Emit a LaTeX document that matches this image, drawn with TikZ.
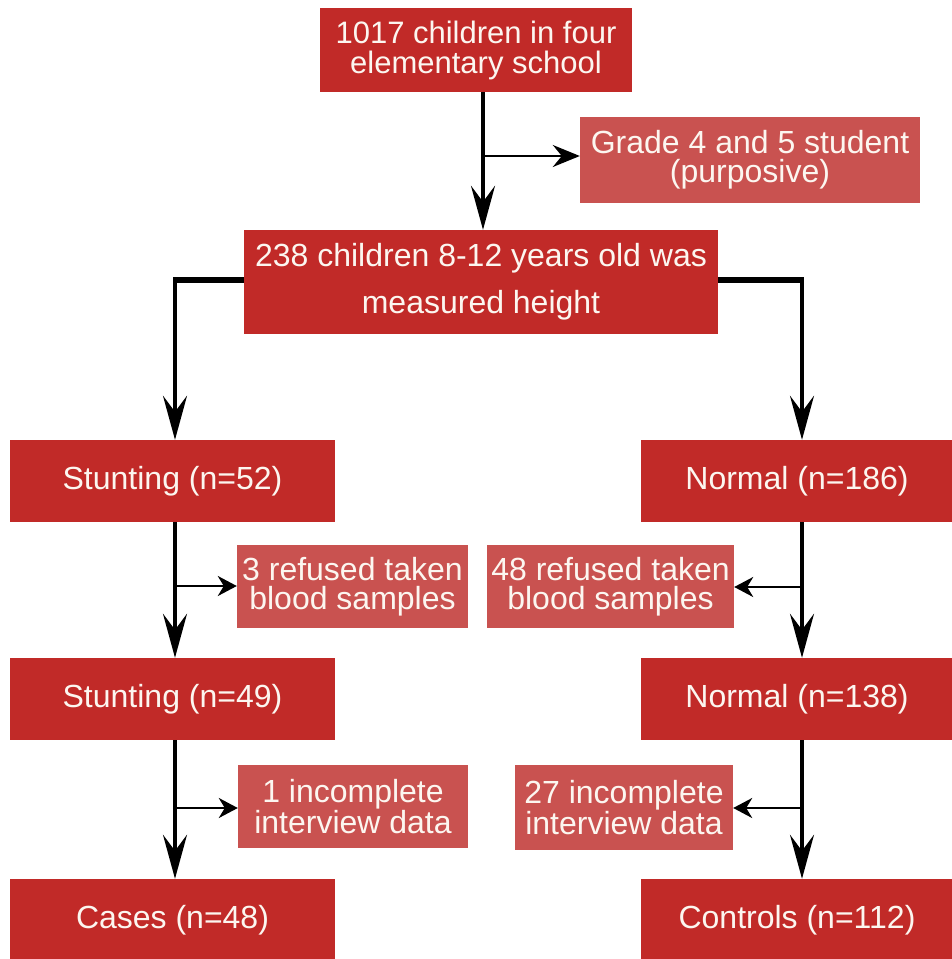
\documentclass[tikz,border=0pt]{standalone}
\usepackage{fontspec}
\setmainfont{Liberation Sans}
\usetikzlibrary{arrows.meta}
\definecolor{dred}{RGB}{193,42,40}
\definecolor{lred}{RGB}{201,82,80}
\definecolor{txt}{RGB}{252,246,240}
\begin{document}
\begin{tikzpicture}[x=1pt,y=-1pt,
  box/.style={fill=dred, text=txt, inner sep=0pt, align=center, font=\fontsize{32}{30}\selectfont},
  sbox/.style={fill=lred, text=txt, inner sep=0pt, align=center, font=\fontsize{32}{29}\selectfont},
  arr/.style={-{Stealth[length=44pt,width=24pt,inset=16pt]}, line width=4pt},
  barr/.style={-{Stealth[length=19pt,width=20pt,inset=6pt]}, line width=2.3pt},
  tarr/.style={-{Stealth[length=27pt,width=22pt,inset=9pt]}, line width=2.3pt},
  thick line/.style={line width=6.5pt}]
\useasboundingbox (0,0) rectangle (952,959);

\node[box, minimum width=312pt, minimum height=84pt, font=\fontsize{31}{30}\selectfont] (top) at (476,50) {1017 children in four\\elementary school};
\node[sbox, minimum width=340pt, minimum height=86pt] (grade) at (750,160) {Grade 4 and 5 student\\(purposive)};
\node[box, minimum width=474pt, minimum height=104pt, font=\fontsize{32}{47}\selectfont] (h238) at (481,282) {238 children 8-12 years old was\\measured height};

\node[box, minimum width=325pt, minimum height=82pt] (st52) at (172.5,481) {Stunting (n=52)};
\node[box, minimum width=312pt, minimum height=82pt] (n186) at (797,481) {Normal (n=186)};

\node[sbox, minimum width=231pt, minimum height=83pt] (ref3) at (352.5,586.5) {3 refused taken\\blood samples};
\node[sbox, minimum width=247pt, minimum height=83pt] (ref48) at (610.5,586.5) {48 refused taken\\blood samples};

\node[box, minimum width=325pt, minimum height=82pt] (st49) at (172.5,699) {Stunting (n=49)};
\node[box, minimum width=312pt, minimum height=82pt] (n138) at (797,699) {Normal (n=138)};

\node[sbox, minimum width=230pt, minimum height=83pt] (inc1) at (353,806.5) {1 incomplete\\interview data};
\node[sbox, minimum width=218pt, minimum height=85pt] (inc27) at (624,807.5) {27 incomplete\\interview data};

\node[box, minimum width=325pt, minimum height=82pt] (cases) at (172.5,920) {Cases (n=48)};
\node[box, minimum width=312pt, minimum height=82pt] (controls) at (797,920) {Controls (n=112)};

% top connector
\coordinate (c1) at (483,156);
\draw[arr] (c1 |- top.south) -- (c1 |- h238.north);
\draw[tarr] (c1) -- (c1 -| grade.west);

% split
\coordinate (L) at (175,280);
\coordinate (R) at (802,280);
\draw[thick line] (h238.west |- L) -- ([xshift=-2pt]L);
\draw[thick line] (h238.east |- R) -- ([xshift=2pt]R);
\draw[arr] ([yshift=-3pt]L) -- (L |- st52.north);
\draw[arr] ([yshift=-3pt]R) -- (R |- n186.north);

% left column
\coordinate (L1) at (175,586);
\draw[arr] (L1 |- st52.south) -- (L1 |- st49.north);
\draw[barr] (L1) -- (L1 -| ref3.west);
\coordinate (L2) at (175,808);
\draw[arr] (L2 |- st49.south) -- (L2 |- cases.north);
\draw[barr] (L2) -- (L2 -| inc1.west);

% right column
\coordinate (R1) at (802,587);
\draw[arr] (R1 |- n186.south) -- (R1 |- n138.north);
\draw[barr] (R1) -- (R1 -| ref48.east);
\coordinate (R2) at (802,808);
\draw[arr] (R2 |- n138.south) -- (R2 |- controls.north);
\draw[barr] (R2) -- (R2 -| inc27.east);
\end{tikzpicture}
\end{document}
